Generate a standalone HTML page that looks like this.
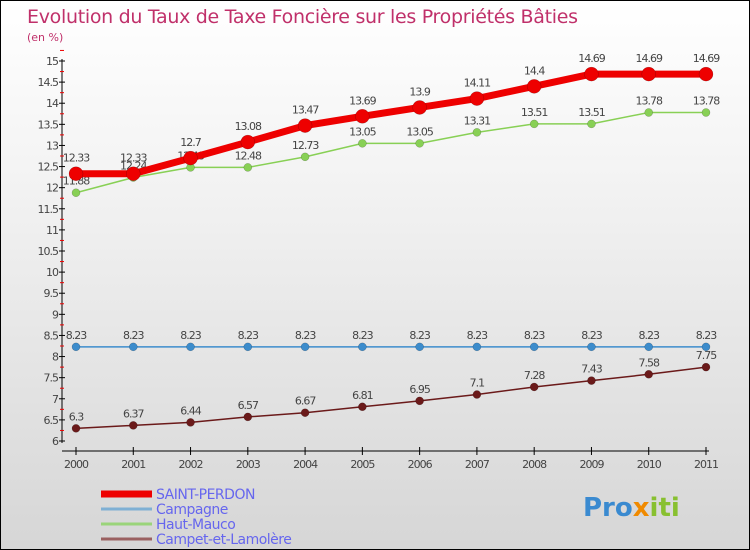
<!DOCTYPE html>
<html><head><meta charset="utf-8"><style>
body{margin:0}
#c{width:750px;height:550px;position:relative;overflow:hidden;box-sizing:border-box;border:1px solid #000;background:linear-gradient(#fff,#f4f4f4 30%,#d6d6d6);font-family:"DejaVu Sans","Liberation Sans",sans-serif}
text{font-family:"DejaVu Sans","Liberation Sans",sans-serif}
</style></head><body>
<div id="c">
<svg id="s" width="750" height="550">
<text x="26" y="22" font-size="19" fill="#c0306a" style="letter-spacing:-0.3px">Evolution du Taux de Taxe Foncière sur les Propriétés Bâties</text>
<text x="26" y="40" font-size="11" fill="#c0306a">(en %)</text>
</svg>
</div>
<script>
const years=[2000,2001,2002,2003,2004,2005,2006,2007,2008,2009,2010,2011];
const yTicks=[6,6.5,7,7.5,8,8.5,9,9.5,10,10.5,11,11.5,12,12.5,13,13.5,14,14.5,15];
const stPerdon=[12.33,12.33,12.7,13.08,13.47,13.69,13.9,14.11,14.4,14.69,14.69,14.69];
const campagne=[8.23,8.23,8.23,8.23,8.23,8.23,8.23,8.23,8.23,8.23,8.23,8.23];
const hautMauco=[11.88,12.24,12.48,12.48,12.73,13.05,13.05,13.31,13.51,13.51,13.78,13.78];
const campet=[6.3,6.37,6.44,6.57,6.67,6.81,6.95,7.1,7.28,7.43,7.58,7.75];
const names=["SAINT-PERDON","Campagne","Haut-Mauco","Campet-et-Lamolère"];

const NS="http://www.w3.org/2000/svg",svg=document.getElementById('s');
const X=i=>75+i*(630/11);
const Y=v=>440-(v-6)*(380/9);
function el(t,a,p){const e=document.createElementNS(NS,t);for(const k in a)e.setAttribute(k,a[k]);(p||svg).appendChild(e);return e;}
const ax=el('g',{});


el('line',{x1:61,y1:58,x2:61,y2:442,stroke:'#000','stroke-width':1},ax);
el('line',{x1:61,y1:450,x2:708,y2:450,stroke:'#000','stroke-width':1},ax);
yTicks.forEach(v=>{
 const y=Y(v);
 el('line',{x1:58,y1:y,x2:64,y2:y,stroke:'#000'},ax);
 el('line',{x1:59,y1:Y(v+0.25),x2:63,y2:Y(v+0.25),stroke:'#e00'},ax);
 const t=el('text',{x:57,y:y+4,'font-size':11,'text-anchor':'end',fill:'#444','letter-spacing':'-1'},ax);
 
 
 t.textContent=String(v);
});
years.forEach((yr,i)=>{
 el('line',{x1:X(i),y1:446,x2:X(i),y2:454,stroke:'#000'},ax);
 const t=el('text',{x:X(i),y:467,'font-size':11,'text-anchor':'middle',fill:'#444','letter-spacing':'-1'},ax);
 
 
 t.textContent=String(yr);
});
function series(vals,color,w,r,name,labOff){
 const g=el('g',{});
 
 
 el('polyline',{points:vals.map((v,i)=>X(i)+','+Y(v)).join(' '),fill:'none',stroke:color,'stroke-width':w,'stroke-linejoin':'round'},g);
 vals.forEach((v,i)=>{
  const c=el('circle',{cx:X(i),cy:Y(v),r:r,fill:color,stroke:'rgba(0,0,0,0.3)','stroke-width':0.5},g);
  
  
  const t=el('text',{x:X(i),y:Y(v)+labOff,'font-size':11,'text-anchor':'middle',fill:'#444','letter-spacing':'-1'},g);
  
  
  t.textContent=String(v);
 });
}
series(campagne,'#3c8ccc',1.5,4,'series-campagne',-8);
series(campet,'#6b1a1a',1.5,4,'series-campet',-8);
series(hautMauco,'#88d055',1.5,4,'series-haut-mauco',-8);
series(stPerdon,'#ee0000',7,7,'series-saint-perdon',-12);
const cols=['#ee0000','#7fb0d4','#9ad47a','#9a6060'],ws=[7,3,3,3];
names.forEach((n,i)=>{
 const g=el('g',{});
 
 
 const y=493+i*15;
 el('line',{x1:100,y1:y,x2:151,y2:y,stroke:cols[i],'stroke-width':ws[i]},g);
 const t=el('text',{x:155,y:y+5,'font-size':14,fill:'#6666ee','letter-spacing':'-0.5'},g);
 t.textContent=n;
});
const lg=el('text',{x:582,y:515,'font-size':26,'font-weight':'bold',fill:'#3a8ad0'});


lg.innerHTML='Pro<tspan fill="#f08a00">x</tspan><tspan fill="#88c030">iti</tspan>';
</script>
</body></html>
